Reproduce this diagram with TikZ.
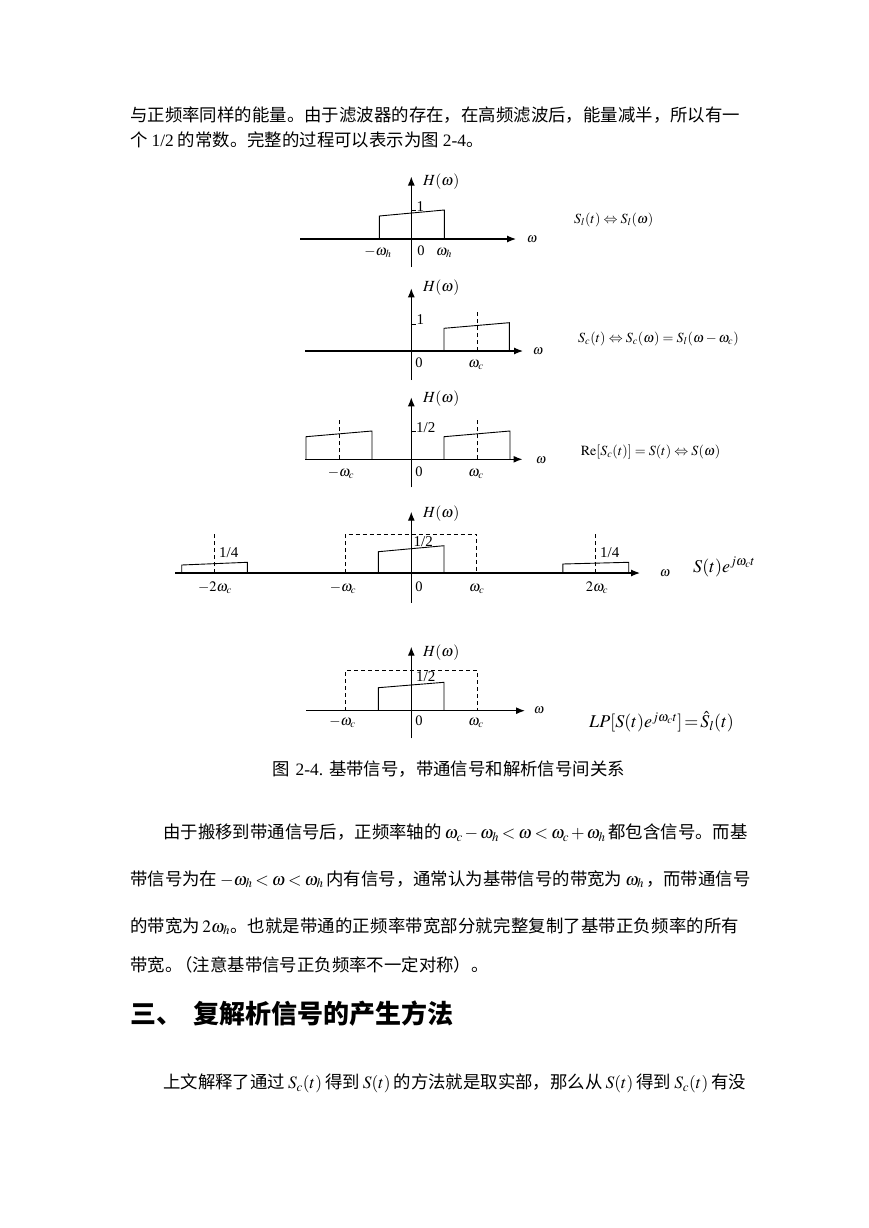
\documentclass[tikz,border=0pt]{standalone}
\usepackage{mathptmx}
\usepackage[no-math]{fontspec}
\setmainfont{Liberation Serif}
\newfontfamily\cjk{Noto Sans CJK SC}
\usetikzlibrary{arrows.meta}
\XeTeXinterchartokenstate=1
\newcount\cjkc
\def\setcls#1#2{\cjkc=#1\relax\loop\XeTeXcharclass\cjkc=7\relax\advance\cjkc by 1\relax\ifnum\cjkc<#2\repeat}
\setcls{"4E00}{"A000}
\setcls{"3000}{"3040}
\setcls{"FF00}{"FFF0}
\XeTeXinterchartoks 7 7 = {\hskip 0pt plus 2pt\relax}
\newcommand\gap{\hskip 3pt plus 3pt\relax}
\begin{document}
\begin{tikzpicture}[x=1pt,y=-1pt,
 axis/.style={line width=1.2pt,-{Latex[length=9pt,width=7pt]}},
 spec/.style={line width=0.9pt},
 dashln/.style={line width=0.9pt,dash pattern=on 4pt off 3pt},
 lab/.style={inner sep=0pt,font=\fontsize{15.5}{17}\selectfont},
 tlab/.style={inner sep=0pt,anchor=base,font=\fontsize{14.5}{16}\selectfont},
 num/.style={inner sep=0pt,anchor=base west,font=\fontsize{15}{17}\selectfont},
 wlab/.style={inner sep=0pt,font=\fontsize{13.5}{15}\selectfont},
 frm/.style={inner sep=0pt,anchor=west,font=\fontsize{14}{16}\selectfont},
 bigf/.style={inner sep=0pt,anchor=west,font=\fontsize{18}{22}\selectfont},
 body/.style={inner sep=0pt,anchor=base west,font=\fontsize{17.4}{20}\selectfont},
 head/.style={inner sep=0pt,anchor=base west,font=\fontsize{26}{30}\selectfont\cjk\bfseries},
]
\path[use as bounding box,fill=white] (0,0) rectangle (869,1228);

% ---------- text above ----------
\node[body] (p1a) at (130,121.5) {\hbox to 610pt{\cjk 与正频率同样的能量。由于滤波器的存在，在高频滤波后，能量减半，所以有一}};
\node[body] (p1b) at (130,146.5) {{\cjk 个}\hskip4pt 1/2\hskip4pt{\cjk 的常数。完整的过程可以表示为图}\hskip4pt 2-4{\cjk 。}};

% ---------- graph 1 ----------
\draw[axis] (300,239) -- (516,239);
\draw[axis] (411.3,267) -- (411.3,176.5);
\draw[spec] (379.3,239) -- (379.3,216) -- (444.3,210) -- (444.3,239);
\draw[spec] (411.3,210.7) -- ++(5,0);
\node[num] (g1one) at (416.5,211.5) {1};
\node[lab,anchor=west] (g1H) at (423,181.7) {$H(\omega)$};
\node[wlab] (g1w) at (532,239) {$\omega$};
\node[tlab] (g1a) at (378,255.5) {$-\omega_h$};
\node[tlab] (g1b) at (421,255.5) {0};
\node[tlab] (g1c) at (444,255.5) {$\omega_h$};
\node[frm] (f1) at (574,220) {$S_l(t)\Leftrightarrow S_l(\omega)$};

% ---------- graph 2 ----------
\draw[axis] (305,351) -- (523,351);
\draw[axis] (411.3,380) -- (411.3,288.3);
\draw[spec] (444,351) -- (444,328.3) -- (509.3,322.7) -- (509.3,351);
\draw[dashln] (477,351) -- (477,311.7);
\draw[spec] (411.3,324) -- ++(5,0);
\node[num] (g2one) at (416.5,324) {1};
\node[lab,anchor=west] (g2H) at (423,287.3) {$H(\omega)$};
\node[wlab] (g2w) at (538,351) {$\omega$};
\node[tlab] (g2b) at (419,367) {0};
\node[tlab] (g2c) at (476,367) {$\omega_c$};
\node[frm] (f2) at (578,338.5) {$S_c(t)\Leftrightarrow S_c(\omega)=S_l(\omega-\omega_c)$};

% ---------- graph 3 ----------
\draw[axis] (305,459.3) -- (522.5,459.3);
\draw[axis] (411.3,487.3) -- (411.3,397.3);
\draw[spec] (444,459.3) -- (444,436.7) -- (510,431) -- (510,459.3);
\draw[spec] (306,459.3) -- (306,436.7) -- (372,431) -- (372,459.3);
\draw[dashln] (477.6,459.3) -- (477.6,420);
\draw[dashln] (339,459.3) -- (339,420);
\draw[spec] (411.3,431.7) -- ++(5,0);
\node[num] (g3half) at (416,432) {1/2};
\node[lab,anchor=west] (g3H) at (423,399) {$H(\omega)$};
\node[wlab] (g3w) at (541,460) {$\omega$};
\node[tlab] (g3a) at (341,476.5) {$-\omega_c$};
\node[tlab] (g3b) at (419,476.5) {0};
\node[tlab] (g3c) at (476,476.5) {$\omega_c$};
\node[frm] (f3) at (580.7,452.3) {$\mathrm{Re}[S_c(t)]=S(t)\Leftrightarrow S(\omega)$};

% ---------- graph 4 ----------
\draw[axis] (175,573) -- (640,573);
\draw[axis] (411.3,602.7) -- (411.3,511.7);
\draw[dashln] (345.5,573) -- (345.5,534) -- (476.7,534) -- (476.7,573);
\draw[spec] (378.3,573) -- (378.3,551.7) -- (444,545.7) -- (444,573);
\draw[spec] (181.7,573) -- (181.7,565) -- (247.3,562.3) -- (247.3,573);
\draw[spec] (562.8,573) -- (562.8,564) -- (628.7,562.3) -- (628.7,573);
\draw[dashln] (214.3,573) -- (214.3,533.3);
\draw[dashln] (595.5,573) -- (595.5,533.3);
\node[num] (g4half) at (413.5,546.5) {1/2};
\node[num] (g4qa) at (219,557) {1/4};
\node[num] (g4qb) at (600,557) {1/4};
\node[lab,anchor=west] (g4H) at (423,513.3) {$H(\omega)$};
\node[wlab] (g4w) at (665,573) {$\omega$};
\node[tlab] (g4a) at (215,591) {$-2\omega_c$};
\node[tlab] (g4b) at (343,591) {$-\omega_c$};
\node[tlab] (g4c) at (419,591) {0};
\node[tlab] (g4d) at (476.7,591) {$\omega_c$};
\node[tlab] (g4e) at (597,591) {$2\omega_c$};
\node[bigf] (f4) at (693,567) {$S(t)e^{j\omega_c t}$};

% ---------- graph 5 ----------
\draw[axis] (306,710.7) -- (525,710.7);
\draw[axis] (411.3,738.3) -- (411.3,646.7);
\draw[dashln] (345,710.7) -- (345,670.7) -- (477.3,670.7) -- (477.3,710.7);
\draw[spec] (378.3,710.7) -- (378.3,687.7) -- (444,682.3) -- (444,710.7);
\node[num] (g5half) at (416,681.5) {1/2};
\node[lab,anchor=west] (g5H) at (423,652.7) {$H(\omega)$};
\node[wlab] (g5w) at (539,710) {$\omega$};
\node[tlab] (g5a) at (342.5,725.5) {$-\omega_c$};
\node[tlab] (g5b) at (419,725.5) {0};
\node[tlab] (g5c) at (476,725.5) {$\omega_c$};
\node[bigf] (f5) at (589,722) {\thickmuskip=2mu$LP[S(t)e^{j\omega_c t}]=\hat{S}_l(t)$};

% ---------- caption ----------
\node[body] (cap) at (272,775) {{\cjk 图}\hskip6pt 2-4.\hskip6pt{\cjk 基带信号，带通信号和解析信号间关系}};

% ---------- paragraph ----------
\node[body] (p2a) at (163,838.5) {\hbox to 576pt{{\cjk 由于搬移到带通信号后，正频率轴的}\gap{\medmuskip=2mu\thickmuskip=3mu$\omega_c-\omega_h<\omega<\omega_c+\omega_h$}\gap{\cjk 都包含信号。而基}}};
\node[body] (p2b) at (130,885) {\hbox to 609pt{{\cjk 带信号为在}\gap{\thickmuskip=3mu$-\omega_h<\omega<\omega_h$}\gap{\cjk 内有信号，通常认为基带信号的带宽为}\gap$\omega_h$\hskip2pt plus 2pt{\cjk ，而带通信号}}};
\node[body] (p2c) at (130,932) {\hbox to 609pt{{\cjk 的带宽为}\hskip2pt plus 2pt$2\omega_h${\cjk 。也就是带通的正频率带宽部分就完整复制了基带正负频率的所有}}};
\node[body] (p2d) at (130,971) {{\cjk 带宽。\kern-0.4em（注意基带信号正负频率不一定对称）。}};

% ---------- heading ----------
\node[head] (h1) at (130,1023) {三、};
\node[head] (h2) at (193,1023) {复解析信号的产生方法};

% ---------- last line ----------
\node[body] (p3a) at (163,1088.5) {\hbox to 576pt{{\cjk 上文解释了通过}\gap$S_c(t)$\gap{\cjk 得到}\gap$S(t)$\gap{\cjk 的方法就是取实部，那么从}\gap$S(t)$\gap{\cjk 得到}\gap$S_c(t)$\gap{\cjk 有没}}};
\end{tikzpicture}
\end{document}
